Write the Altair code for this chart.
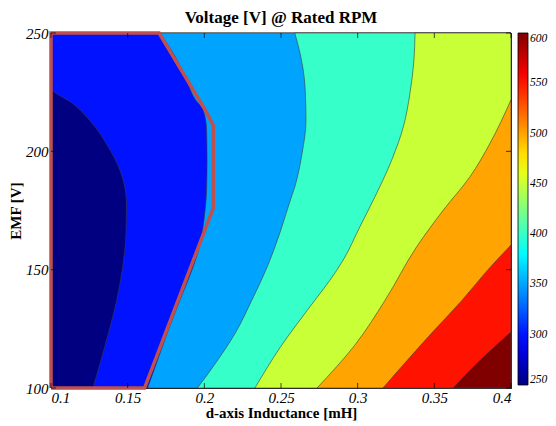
import altair as alt
import pandas as pd

# ---------------- data ----------------
chart_title = "Voltage [V] @ Rated RPM"
x_title = "d-axis Inductance [mH]"
y_title = "EMF [V]"
x_ticks = [0.1, 0.15, 0.2, 0.25, 0.3, 0.35, 0.4]
y_ticks = [100, 150, 200, 250]
cbar_ticks = [250, 300, 350, 400, 450, 500, 550, 600]

# contour boundaries: region to the right of each curve has voltage >= level
b250_emf = [100, 250]
b250_L = [0.1, 0.1]

b300_emf = [100, 123, 137, 151, 165, 178, 192, 203, 213, 220, 227, 250]
b300_L = [0.1274, 0.1374, 0.1428, 0.1467, 0.1489, 0.1492, 0.145, 0.1363, 0.1254, 0.1146, 0.1, 0.1]

b350_emf = [100, 109, 123, 137, 151, 160, 171, 184, 196, 209, 217.5, 222, 230, 240, 250]
b350_L = [0.163, 0.168, 0.1757, 0.184, 0.1926, 0.197, 0.1998, 0.2015, 0.2018, 0.2015, 0.1993, 0.194, 0.1885, 0.181, 0.171]

b400_emf = [100, 109, 123, 137, 151, 165, 179, 185, 199, 213, 227, 241.5, 250]
b400_L = [0.1955, 0.2057, 0.22, 0.2309, 0.2409, 0.249, 0.2559, 0.259, 0.2637, 0.2663, 0.2657, 0.2624, 0.259]

b450_emf = [100, 117, 137, 145.6, 154.1, 168.2, 182.3, 196.3, 210.4, 224.5, 238.6, 250]
b450_L = [0.233, 0.2493, 0.272, 0.282, 0.2906, 0.3015, 0.3124, 0.3222, 0.3298, 0.3341, 0.3367, 0.3374]

b500_emf = [100, 118, 137.2, 159.7, 175.2, 189.3, 203.4, 221.7]
b500_L = [0.2735, 0.298, 0.318, 0.3385, 0.3559, 0.3733, 0.3863, 0.4]

b550_emf = [100, 123, 137, 150, 160.4]
b550_L = [0.3165, 0.348, 0.368, 0.385, 0.4]

b600_emf = [100, 111.8, 123.7]
b600_L = [0.3622, 0.38, 0.4]

boundaries = [
    (250, b250_emf, b250_L),
    (300, b300_emf, b300_L),
    (350, b350_emf, b350_L),
    (400, b400_emf, b400_L),
    (450, b450_emf, b450_L),
    (500, b500_emf, b500_L),
    (550, b550_emf, b550_L),
    (600, b600_emf, b600_L),
]
x_max = 0.4

# design region outline
poly_L = [0.1, 0.1, 0.1705, 0.201, 0.2058, 0.2058, 0.161, 0.1]
poly_emf = [100, 250, 250, 217, 211, 176, 100, 100]

# jet colormap stops
jet = ["#000080", "#0000ff", "#0080ff", "#00ffff", "#80ff80",
       "#ffff00", "#ff8000", "#ff0000", "#800000"]

# ---------------- chart ----------------
SERIF = "Liberation Serif"
xs = alt.Scale(domain=[0.1, 0.4], nice=False, zero=False)
ys = alt.Scale(domain=[100, 250], nice=False, zero=False)
cs = alt.Scale(domain=[250, 600], range=jet, interpolate="rgb")
x_axis = alt.Axis(values=x_ticks, title=x_title, format="~g")
y_axis = alt.Axis(values=y_ticks, title=y_title)

color_enc = alt.Color(
    "level:Q", scale=cs,
    legend=alt.Legend(
        title=None, values=cbar_ticks, gradientLength=352, gradientThickness=10,
        labelFont=SERIF, labelFontStyle="italic", labelFontSize=11.5,
        labelColor="black", orient="none", legendX=467, legendY=0,
        padding=0, labelOverlap=False,
        gradientStrokeColor="black", gradientStrokeWidth=0.8,
        labelBaseline="middle", labelOffset=2, direction="vertical",
    ),
)

layers = []
for lvl, emf, L in boundaries:
    df = pd.DataFrame({"emf": emf, "L": L, "L2": x_max, "level": lvl})
    area = alt.Chart(df).mark_area(
        orient="horizontal", interpolate="monotone",
        stroke="#3a3a3a", strokeWidth=0.6,
    ).encode(
        y=alt.Y("emf:Q", scale=ys, axis=y_axis),
        x=alt.X("L:Q", scale=xs, axis=x_axis, stack=None),
        x2="L2:Q",
        color=color_enc,
    )
    layers.append(area)

poly_df = pd.DataFrame({"L": poly_L, "emf": poly_emf, "i": list(range(len(poly_L)))})
poly = alt.Chart(poly_df).mark_line(color="#c0504d", strokeWidth=3.5, strokeJoin="miter").encode(
    x=alt.X("L:Q", scale=xs, axis=x_axis),
    y=alt.Y("emf:Q", scale=ys, axis=y_axis),
    order=alt.Order("i:Q"),
)
layers.append(poly)

# inward MATLAB-style ticks
xt = pd.DataFrame({"t": x_ticks})
yt = pd.DataFrame({"t": y_ticks})
tick_bottom = alt.Chart(xt).mark_tick(orient="vertical", size=5, thickness=1, color="black", yOffset=-2.5).encode(
    x=alt.X("t:Q", scale=xs, axis=x_axis), y=alt.Y(datum=100, type="quantitative", scale=ys, axis=y_axis))
tick_top = alt.Chart(xt).mark_tick(orient="vertical", size=5, thickness=1, color="black", yOffset=2.5).encode(
    x=alt.X("t:Q", scale=xs, axis=x_axis), y=alt.Y(datum=250, type="quantitative", scale=ys, axis=y_axis))
tick_left = alt.Chart(yt).mark_tick(orient="horizontal", size=5, thickness=1, color="black", xOffset=2.5).encode(
    y=alt.Y("t:Q", scale=ys, axis=y_axis), x=alt.X(datum=0.1, type="quantitative", scale=xs, axis=x_axis))
tick_right = alt.Chart(yt).mark_tick(orient="horizontal", size=5, thickness=1, color="black", xOffset=-2.5).encode(
    y=alt.Y("t:Q", scale=ys, axis=y_axis), x=alt.X(datum=0.4, type="quantitative", scale=xs, axis=x_axis))
layers += [tick_bottom, tick_top, tick_left, tick_right]

chart = alt.layer(*layers).properties(
    width=460, height=355,
    title=alt.Title(chart_title, font=SERIF, fontSize=17, fontWeight="bold",
                    anchor="middle", offset=-1, color="black"),
    autosize=alt.AutoSizeParams(type="none"),
    padding={"left": 43, "top": 25, "right": 37, "bottom": 38},
).configure_view(
    stroke="black", strokeWidth=1
).configure_axis(
    ticks=False, domain=False, grid=False,
    labelFont=SERIF, labelFontStyle="italic", labelFontSize=15, labelColor="black",
    labelPadding=3,
    titleFont=SERIF, titleFontWeight="bold", titleFontSize=15, titleColor="black",
).configure_axisX(titlePadding=0, labelPadding=2).configure_axisY(titlePadding=2)

chart.save("out.html", embed_options={"renderer": "svg", "actions": False})
